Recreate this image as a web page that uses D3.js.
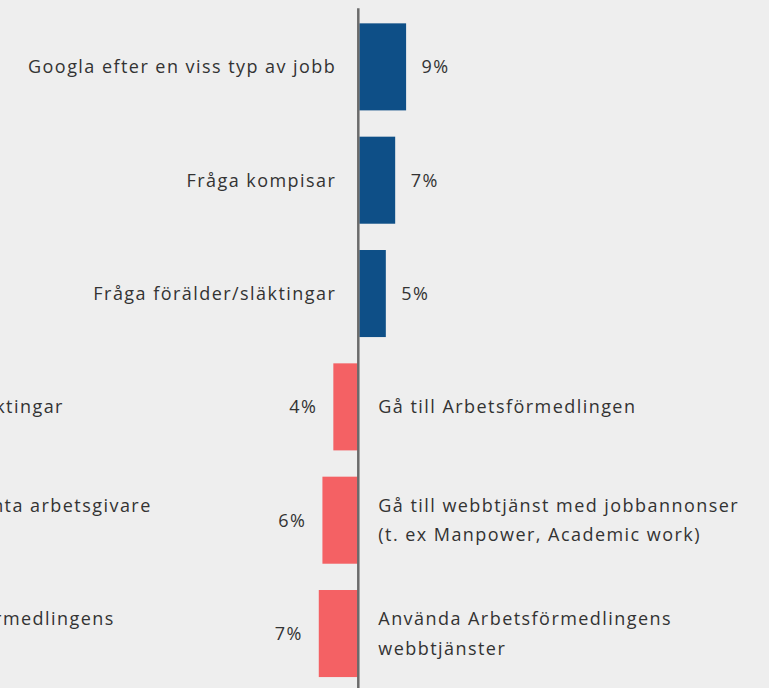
<!DOCTYPE html>
<html>
<head>
<meta charset="utf-8">
<script src="https://cdn.jsdelivr.net/npm/d3@7"></script>
<style>
  html, body { margin: 0; padding: 0; background: #eeeeee; overflow: hidden; }
  text { font-family: "Open Sans", sans-serif; fill: #333333; letter-spacing: 1.45px; }
</style>
</head>
<body>
<div id="chart"></div>
<script>
// rows, top to bottom
const rowIds = ["r1", "r2", "r3", "r4", "r5", "r6"];
const sides = ["pos", "pos", "pos", "neg", "neg", "neg"];
// bar lengths (percent)
const values = [9.0, 6.9, 5.1, 4.8, 6.9, 7.6];
const valueLabels = ["9%", "7%", "5%", "4%", "6%", "7%"];
const categories = [
    ["Googla efter en viss typ av jobb"],
    ["Fråga kompisar"],
    ["Fråga förälder/släktingar"],
    ["Gå till Arbetsförmedlingen"],
    ["Gå till webbtjänst med jobbannonser", "(t. ex Manpower, Academic work)"],
    ["Använda Arbetsförmedlingens", "webbtjänster"]
];
// labels of the neighbouring panel, cut off at the left edge
const cutLabels = [
    null, null, null,
    ["Fråga förälder/släktingar"],
    ["Kontakta intressanta arbetsgivare", ""],
    ["Använda Arbetsförmedlingens", "webbtjänster"]
];

const width = 769, height = 688;
const axisX = 358.3;
const colors = { pos: "#0e4f87", neg: "#f46164" };

const svg = d3.select("#chart").append("svg")
    .attr("width", width)
    .attr("height", height);

const x = d3.scaleLinear()
    .domain([0, 10])
    .range([0, 52]);

const y = d3.scaleBand()
    .domain(rowIds)
    .range([10.2, 690.2])
    .paddingInner(0.232)
    .paddingOuter(0.116);

const rows = rowIds.map((id, i) => ({
    id, side: sides[i], value: values[i], label: valueLabels[i],
    cat: categories[i], cut: cutLabels[i]
}));

// bars
svg.selectAll("rect.bar")
    .data(rows)
    .join("rect")
    .attr("class", "bar")
    .attr("x", d => d.side === "pos" ? axisX + 1 : axisX - x(d.value))
    .attr("y", d => y(d.id))
    .attr("width", d => x(d.value))
    .attr("height", y.bandwidth())
    .attr("fill", d => colors[d.side]);

// axis line
svg.append("line")
    .attr("x1", axisX).attr("x2", axisX)
    .attr("y1", 8.3).attr("y2", height)
    .attr("stroke", "#6b6b6b")
    .attr("stroke-width", 2.5);

const fs = 18, lineH = 29.5;

// multi-line label helper
function addLabel(g, lines, xPos, cy, anchor) {
    const t = g.append("text")
        .attr("text-anchor", anchor)
        .attr("font-size", fs);
    const off = (lines.length - 1) * lineH / 2;
    lines.forEach((ln, j) => {
        t.append("tspan")
            .attr("x", xPos)
            .attr("y", cy - off + j * lineH)
            .attr("dy", "0.35em")
            .text(ln);
    });
}

const labels = svg.append("g");
rows.forEach(d => {
    const cy = y(d.id) + y.bandwidth() / 2;
    if (d.side === "pos") {
        addLabel(labels, d.cat, axisX - 22, cy, "end");
        addLabel(labels, [d.label], axisX + 1 + x(d.value) + 15.5, cy, "start");
    } else {
        addLabel(labels, d.cat, axisX + 20, cy, "start");
        addLabel(labels, [d.label], axisX - x(d.value) - 16, cy, "end");
    }
    if (d.cut) addLabel(labels, d.cut, -179, cy, "start");
});
</script>
</body>
</html>
